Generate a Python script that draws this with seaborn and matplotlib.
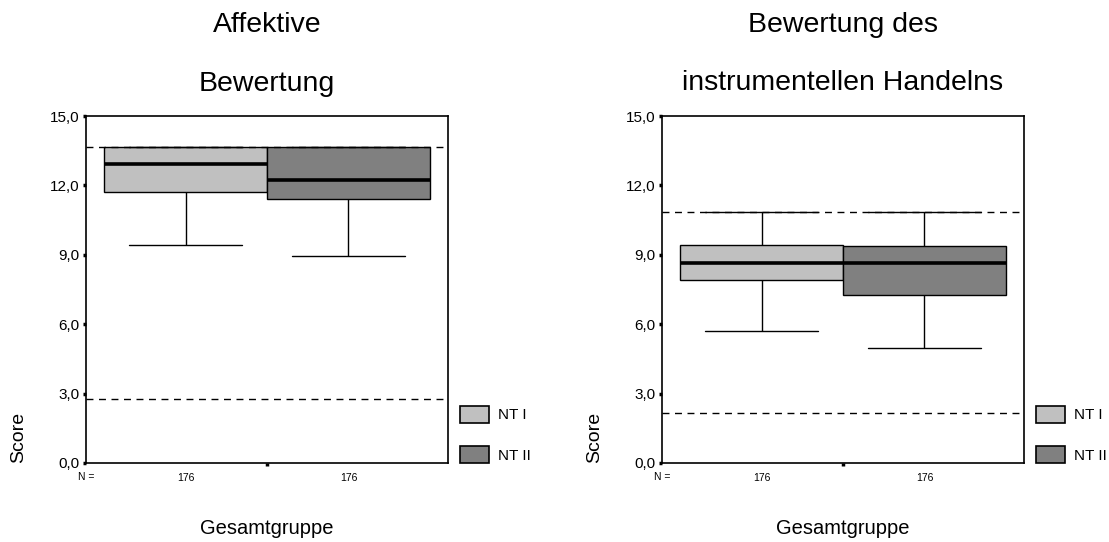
import numpy as np
import pandas as pd
import matplotlib
matplotlib.use("Agg")
import matplotlib.pyplot as plt
import matplotlib.transforms as mtransforms
import seaborn as sns

# ---- data (five-number summaries: min, Q1, median, Q3, max)
groups = ["NT I", "NT II"]
n_labels = ["176", "176"]
affektiv_nt1 = [9.42, 11.70, 12.92, 13.67, 13.67]
affektiv_nt2 = [8.94, 11.43, 12.22, 13.67, 13.67]
instr_nt1 = [5.72, 7.90, 8.66, 9.42, 10.84]
instr_nt2 = [4.98, 7.25, 8.66, 9.38, 10.84]
affektiv_ref = [2.75, 13.67]
instr_ref = [2.16, 10.84]
yticks = [0, 3, 6, 9, 12, 15]
ytick_labels = ["0,0", "3,0", "6,0", "9,0", "12,0", "15,0"]
titles = [("Affektive", "Bewertung"), ("Bewertung des", "instrumentellen Handelns")]
colors = ["#C0C0C0", "#808080"]

sns.set_theme(style="white")
plt.rcParams["font.family"] = ["Liberation Sans", "DejaVu Sans"]
for k in ["text.color", "axes.labelcolor", "xtick.color", "ytick.color"]:
    plt.rcParams[k] = "black"

fig = plt.figure(figsize=(11.09, 5.42), dpi=100)
W, H = 1109, 542
ax_left_px = [86, 662]
ax_w_px = 362
ax_top_px, ax_bot_px = 116, 463
title_baselines = [(32, 91), (32, 90)]

panels = [(affektiv_nt1, affektiv_nt2, affektiv_ref), (instr_nt1, instr_nt2, instr_ref)]

for i, (d1, d2, ref) in enumerate(panels):
    ax = fig.add_axes([ax_left_px[i] / W, 1 - ax_bot_px / H,
                       ax_w_px / W, (ax_bot_px - ax_top_px) / H])
    df = pd.DataFrame({
        "Gruppe": ["Gesamtgruppe"] * (len(d1) + len(d2)),
        "Test": [groups[0]] * len(d1) + [groups[1]] * len(d2),
        "Score": d1 + d2,
    })
    sns.boxplot(data=df, x="Gruppe", y="Score", hue="Test", hue_order=groups,
                palette=colors, width=0.9, gap=0, linecolor="black",
                linewidth=1.0, whis=(0, 100), saturation=1,
                medianprops={"linewidth": 2.6, "color": "black"},
                capwidths=0.31, ax=ax)
    for r in ref:
        ax.axhline(r, color="black", linewidth=1.0, linestyle=(0, (5, 4)), zorder=5)
    ax.set_xlim(-0.5, 0.5)
    ax.set_ylim(0, 15)
    ax.set_yticks(yticks)
    ax.set_yticklabels(ytick_labels, fontsize=11)
    ax.set_xticks([0])
    ax.set_xticklabels([""])
    ax.tick_params(axis="both", direction="out", length=2.5, width=2.5,
                   color="black", pad=2, left=True, bottom=True)
    for s in ax.spines.values():
        s.set_visible(True)
        s.set_color("black")
        s.set_linewidth(1.2)
    ax.set_ylabel("Score", fontsize=14)
    ax.yaxis.set_label_coords(-0.164, 0.075)
    ax.set_xlabel("Gesamtgruppe", fontsize=14.5)
    ax.xaxis.set_label_coords(0.5, -0.162)
    trans = mtransforms.blended_transform_factory(ax.transData, ax.transAxes)
    for xpos, lab in zip([-0.225, 0.225], n_labels):
        ax.text(xpos, -0.043, lab, transform=trans, ha="center", va="center", fontsize=7.5)
    ax.text(0.0, -0.040, "N =", transform=ax.transAxes, ha="center", va="center", fontsize=7.5)

    handles, labels = ax.get_legend_handles_labels()
    for h in handles:
        h.set_edgecolor("black")
        h.set_linewidth(1.2)
    ax.legend(handles, labels, loc="lower left", bbox_to_anchor=(1.033, 0.0),
              frameon=False, borderpad=0, borderaxespad=0, fontsize=11,
              handlelength=1.9, handleheight=1.3, handletextpad=0.6,
              labelspacing=1.55)

    cx = (ax_left_px[i] + ax_w_px / 2) / W
    b1, b2 = title_baselines[i]
    fig.text(cx, 1 - b1 / H, titles[i][0], ha="center", va="baseline", fontsize=20.5)
    fig.text(cx, 1 - b2 / H, titles[i][1], ha="center", va="baseline", fontsize=20.5)

fig.savefig("out.png", dpi=100)
